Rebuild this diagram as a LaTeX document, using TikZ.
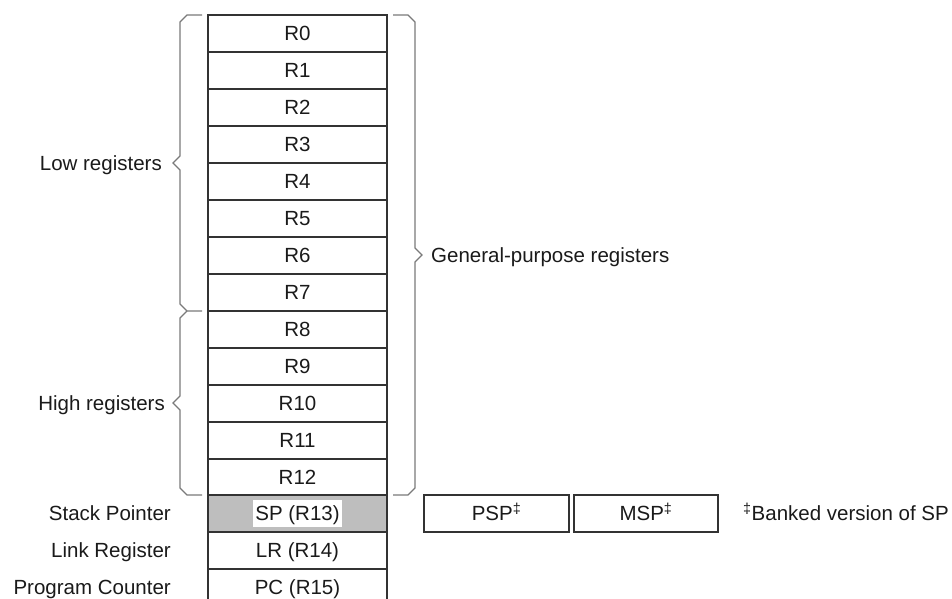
\documentclass[tikz,border=0pt]{standalone}
\usepackage{fontspec}
\setmainfont{Liberation Sans}
\newcommand\regfont{\fontsize{20.5}{24}\selectfont}
\definecolor{spgray}{HTML}{BEBEBE}
\definecolor{linegray}{HTML}{333333}
\definecolor{bracegray}{HTML}{7A7A7A}
\definecolor{txt}{HTML}{1A1A1A}
\begin{document}
\begin{tikzpicture}[x=1pt,y=-1pt,
  every node/.style={text=txt,font=\regfont},
  reg/.style={draw=linegray,line width=1.3pt,minimum width=179pt,minimum height=37pt,
    inner sep=0pt,outer sep=0pt,text height=14.8pt,text depth=0pt},
  bank/.style={draw=linegray,line width=1.2pt,minimum height=37pt,
    inner sep=0pt,outer sep=0pt,text height=14.8pt,text depth=0pt},
  lbl/.style={inner sep=0pt,text height=14.8pt,text depth=0pt},
  brace/.style={draw=bracegray,line width=1.2pt,line join=miter}]
\useasboundingbox (0,0) rectangle (952,598);
\foreach \i in {0,...,12}
  \node[reg] (r\i) at (297.5,{33.5+37*\i}) {R\i};
\node[reg,fill=spgray] (sp) at (297.5,513.5) {};
\node[fill=white,inner sep=2.5pt,text height=18pt,text depth=3.5pt] (sptext) at (sp.center) {SP (R13)};
\node[reg] (lr) at (297.5,550.5) {LR (R14)};
\node[reg] (pc) at (297.5,587.5) {PC (R15)};
% banked
\node[bank,minimum width=145pt] (psp) at (496.5,513.5) {PSP\textsuperscript{‡}};
\node[bank,minimum width=144pt] (msp) at (646,513.5) {MSP\textsuperscript{‡}};
\node[lbl,anchor=west] (note) at (743,513.5) {\textsuperscript{‡}Banked version of SP};
% left labels
\node[lbl,anchor=east] (low) at (162,163) {Low registers};
\node[lbl,anchor=east] (high) at (165,403) {High registers};
\node[lbl,anchor=east] (spl) at (171,513.5) {Stack Pointer};
\node[lbl,anchor=east] (lrl) at (171,550.5) {Link Register};
\node[lbl,anchor=east] (pcl) at (171,587.5) {Program Counter};
\node[lbl,anchor=west] (gpr) at (431,255) {General-purpose registers};
% braces
\draw[brace] (202,15) -- (187,15) -- (180,22) -- (180,156) -- (173,163) -- (180,170)
  -- (180,304) -- (187,311) -- (202,311);
\draw[brace] (187,311) -- (180,318) -- (180,396) -- (173,403) -- (180,410)
  -- (180,488) -- (187,495) -- (202,495);
\draw[brace] (393,15) -- (408,15) -- (415,22) -- (415,248) -- (422,255) -- (415,262)
  -- (415,488) -- (408,495) -- (393,495);
\end{tikzpicture}
\end{document}
